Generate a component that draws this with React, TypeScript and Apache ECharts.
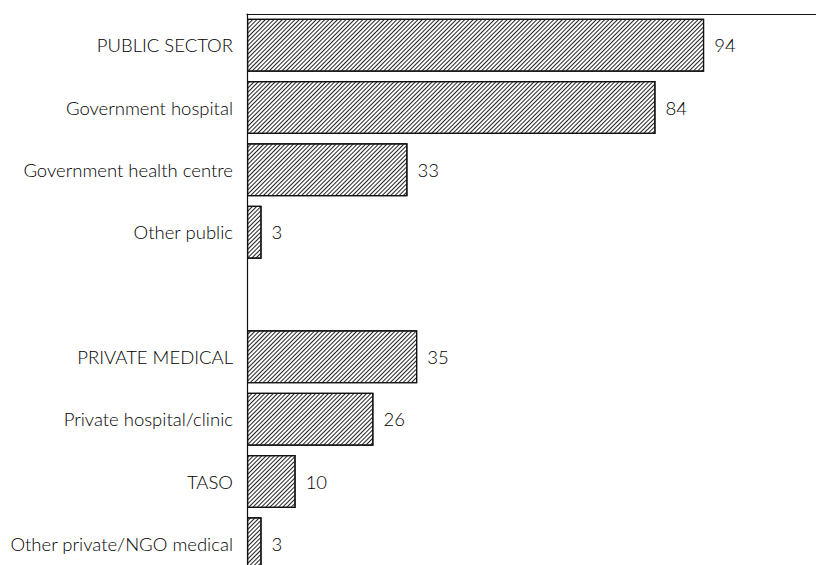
import React, { useEffect, useRef } from "react";
import * as echarts from "echarts";

const categories = [
  "PUBLIC SECTOR",
  "Government hospital",
  "Government health centre",
  "Other public",
  "",
  "PRIVATE MEDICAL",
  "Private hospital/clinic",
  "TASO",
  "Other private/NGO medical",
];
const values: (number | null)[] = [94, 84, 33, 3, null, 35, 26, 10, 3];
const axisMax = 117;

export default function App() {
  const ref = useRef<HTMLDivElement>(null);
  useEffect(() => {
    const chart = echarts.init(ref.current!, null, { renderer: "svg" });
    const font = "Lato, 'Open Sans', sans-serif";
    chart.setOption({
      animation: false,
      backgroundColor: "#fff",
      grid: { left: 247, right: 0, top: 14, bottom: 0, containLabel: false },
      xAxis: {
        type: "value",
        position: "top",
        min: 0,
        max: axisMax,
        axisLine: { show: true, lineStyle: { color: "#111", width: 1.2 } },
        axisTick: { show: false },
        axisLabel: { show: false },
        splitLine: { show: false },
      },
      yAxis: {
        type: "category",
        inverse: true,
        data: categories,
        axisLine: { show: true, lineStyle: { color: "#111", width: 1.2 } },
        axisTick: { show: false },
        axisLabel: {
          margin: 14,
          color: "#000",
          fontSize: 18.5,
          fontWeight: 300,
          fontFamily: font,
        },
      },
      series: [
        {
          type: "bar",
          data: values,
          barCategoryGap: "15%",
          itemStyle: {
            color: "#fff",
            borderColor: "#111",
            borderWidth: 1.2,
            decal: {
              symbol: "rect",
              symbolSize: 1,
              dashArrayX: [1, 0],
              dashArrayY: [1, 1.2],
              rotation: -Math.PI / 4,
              color: "#222",
              backgroundColor: "#fff",
            },
          },
          label: {
            show: true,
            position: "right",
            distance: 10,
            color: "#000",
            fontSize: 18.5,
            fontWeight: 300,
            fontFamily: font,
          },
        },
      ],
    });
    return () => chart.dispose();
  }, []);
  return (
    <div
      ref={ref}
      style={{ position: "fixed", left: 0, top: 0, width: 816, height: 575 }}
    />
  );
}
